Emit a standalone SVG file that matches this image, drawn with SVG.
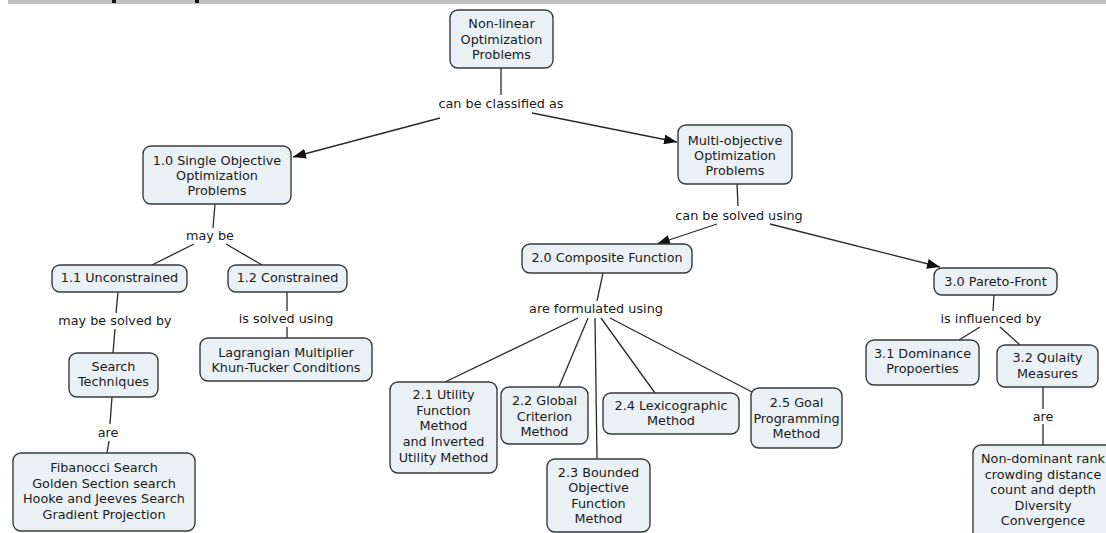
<svg xmlns="http://www.w3.org/2000/svg" width="1106" height="533" viewBox="0 0 1106 533">
  <defs>
    <marker id="arrow" viewBox="0 0 13 10" refX="13" refY="5" markerWidth="13" markerHeight="10" markerUnits="userSpaceOnUse" orient="auto">
      <path d="M0,0 L13,5 L0,10 z" fill="#111"/>
    </marker>
    <style>
      .node rect { fill: #eaf1f4; stroke: #3a3a3a; stroke-width: 1.4; }
      .node text, .lbl { font-family: "DejaVu Sans", Verdana, sans-serif; font-size: 12.8px; fill: #1a1a1a; text-anchor: middle; }
      .links line { stroke: #2a2a2a; stroke-width: 1.3; fill: none; }
      .links line.arr { marker-end: url(#arrow); }
    </style>
  </defs>
  <rect width="1106" height="533" fill="#ffffff"/>
  <!-- header strip -->
  <rect x="8" y="0" width="1098" height="4" fill="#c0c0c0"/>
  <rect x="112" y="0" width="4" height="3" fill="#111"/>
  <rect x="195" y="0" width="4" height="3" fill="#111"/>

  <!-- connectors -->
  <g id="connectors" class="links">
    <line x1="501" y1="68" x2="501" y2="95"/>
    <line class="arr" x1="440" y1="118" x2="293" y2="157"/>
    <line class="arr" x1="532" y1="113" x2="677" y2="142"/>
    <line x1="215" y1="204" x2="213" y2="228"/>
    <line x1="194" y1="244" x2="152" y2="265"/>
    <line x1="226" y1="244" x2="262" y2="265"/>
    <line x1="118" y1="292" x2="116" y2="313"/>
    <line x1="115" y1="329" x2="113" y2="353"/>
    <line x1="287" y1="292" x2="287" y2="311"/>
    <line x1="287" y1="327" x2="287" y2="338"/>
    <line x1="112" y1="397" x2="110" y2="424"/>
    <line x1="109" y1="441" x2="107" y2="453"/>
    <line x1="737" y1="184" x2="738" y2="206"/>
    <line class="arr" x1="717" y1="224" x2="657" y2="244"/>
    <line class="arr" x1="770" y1="224" x2="940" y2="267"/>
    <line x1="603" y1="273" x2="597" y2="301"/>
    <line x1="578" y1="318" x2="445" y2="382"/>
    <line x1="588" y1="318" x2="559" y2="387"/>
    <line x1="595" y1="318" x2="597" y2="459"/>
    <line x1="601" y1="318" x2="655" y2="393"/>
    <line x1="610" y1="318" x2="752" y2="392"/>
    <line x1="994" y1="295" x2="993" y2="311"/>
    <line x1="980" y1="327" x2="959" y2="340"/>
    <line x1="1000" y1="327" x2="1020" y2="345"/>
    <line x1="1043" y1="387" x2="1043" y2="409"/>
    <line x1="1043" y1="424" x2="1043" y2="445"/>
  </g>

  <!-- linking phrases -->
  <g id="labels">
    <text class="lbl" x="501" y="108">can be classified as</text>
    <text class="lbl" x="210" y="240">may be</text>
    <text class="lbl" x="115" y="325">may be solved by</text>
    <text class="lbl" x="286" y="323">is solved using</text>
    <text class="lbl" x="108" y="437">are</text>
    <text class="lbl" x="739" y="220">can be solved using</text>
    <text class="lbl" x="596" y="313">are formulated using</text>
    <text class="lbl" x="991" y="323">is influenced by</text>
    <text class="lbl" x="1043" y="421">are</text>
  </g>

  <!-- concepts -->
  <g id="n-nonlinear" class="node">
    <rect x="450" y="10" width="103" height="58" rx="8"/>
    <text x="501.5" y="28">Non-linear</text>
    <text x="501.5" y="43.5">Optimization</text>
    <text x="501.5" y="59">Problems</text>
  </g>
  <g id="n-single" class="node">
    <rect x="143" y="146" width="148" height="58" rx="8"/>
    <text x="217" y="165">1.0 Single Objective</text>
    <text x="217" y="180">Optimization</text>
    <text x="217" y="195">Problems</text>
  </g>
  <g id="n-multi" class="node">
    <rect x="678" y="125" width="114" height="59" rx="8"/>
    <text x="735" y="145">Multi-objective</text>
    <text x="735" y="160">Optimization</text>
    <text x="735" y="175">Problems</text>
  </g>
  <g id="n-unconstrained" class="node">
    <rect x="52" y="265" width="135" height="27" rx="8"/>
    <text x="119.5" y="282">1.1 Unconstrained</text>
  </g>
  <g id="n-constrained" class="node">
    <rect x="228" y="265" width="119" height="27" rx="8"/>
    <text x="287.5" y="282">1.2 Constrained</text>
  </g>
  <g id="n-search" class="node">
    <rect x="69" y="353" width="89" height="44" rx="8"/>
    <text x="113.5" y="371">Search</text>
    <text x="113.5" y="386">Techniques</text>
  </g>
  <g id="n-lagrangian" class="node">
    <rect x="200" y="338" width="172" height="43" rx="8"/>
    <text x="286" y="357">Lagrangian Multiplier</text>
    <text x="286" y="372">Khun-Tucker Conditions</text>
  </g>
  <g id="n-searches" class="node">
    <rect x="13" y="453" width="182" height="78" rx="8"/>
    <text x="104" y="472">Fibanocci Search</text>
    <text x="104" y="487.5">Golden Section search</text>
    <text x="104" y="503">Hooke and Jeeves Search</text>
    <text x="104" y="518.5">Gradient Projection</text>
  </g>
  <g id="n-composite" class="node">
    <rect x="522" y="244" width="170" height="29" rx="8"/>
    <text x="607" y="262">2.0 Composite Function</text>
  </g>
  <g id="n-utility" class="node">
    <rect x="390" y="382" width="107" height="91" rx="8"/>
    <text x="443.5" y="399">2.1 Utility</text>
    <text x="443.5" y="415">Function</text>
    <text x="443.5" y="430">Method</text>
    <text x="443.5" y="446">and Inverted</text>
    <text x="443.5" y="462">Utility Method</text>
  </g>
  <g id="n-global" class="node">
    <rect x="501" y="387" width="87" height="57" rx="8"/>
    <text x="544.5" y="405">2.2 Global</text>
    <text x="544.5" y="420.5">Criterion</text>
    <text x="544.5" y="436">Method</text>
  </g>
  <g id="n-bounded" class="node">
    <rect x="547" y="459" width="103" height="73" rx="8"/>
    <text x="598.5" y="477">2.3 Bounded</text>
    <text x="598.5" y="492">Objective</text>
    <text x="598.5" y="507.5">Function</text>
    <text x="598.5" y="523">Method</text>
  </g>
  <g id="n-lexico" class="node">
    <rect x="603" y="393" width="136" height="41" rx="8"/>
    <text x="671" y="410">2.4 Lexicographic</text>
    <text x="671" y="425">Method</text>
  </g>
  <g id="n-goal" class="node">
    <rect x="751" y="388" width="91" height="60" rx="8"/>
    <text x="796.5" y="407">2.5 Goal</text>
    <text x="796.5" y="422.5">Programming</text>
    <text x="796.5" y="438">Method</text>
  </g>
  <g id="n-pareto" class="node">
    <rect x="934" y="268" width="123" height="27" rx="8"/>
    <text x="995.5" y="286">3.0 Pareto-Front</text>
  </g>
  <g id="n-dominance" class="node">
    <rect x="866" y="340" width="113" height="45" rx="8"/>
    <text x="922.5" y="358">3.1 Dominance</text>
    <text x="922.5" y="373">Propoerties</text>
  </g>
  <g id="n-quality" class="node">
    <rect x="997" y="345" width="101" height="42" rx="8"/>
    <text x="1047.5" y="362">3.2 Qulaity</text>
    <text x="1047.5" y="378">Measures</text>
  </g>
  <g id="n-measures" class="node">
    <rect x="973" y="445" width="145" height="98" rx="8"/>
    <text x="1043" y="463">Non-dominant rank</text>
    <text x="1043" y="478.5">crowding distance</text>
    <text x="1043" y="494">count and depth</text>
    <text x="1043" y="509.5">Diversity</text>
    <text x="1043" y="525">Convergence</text>
  </g>
</svg>
